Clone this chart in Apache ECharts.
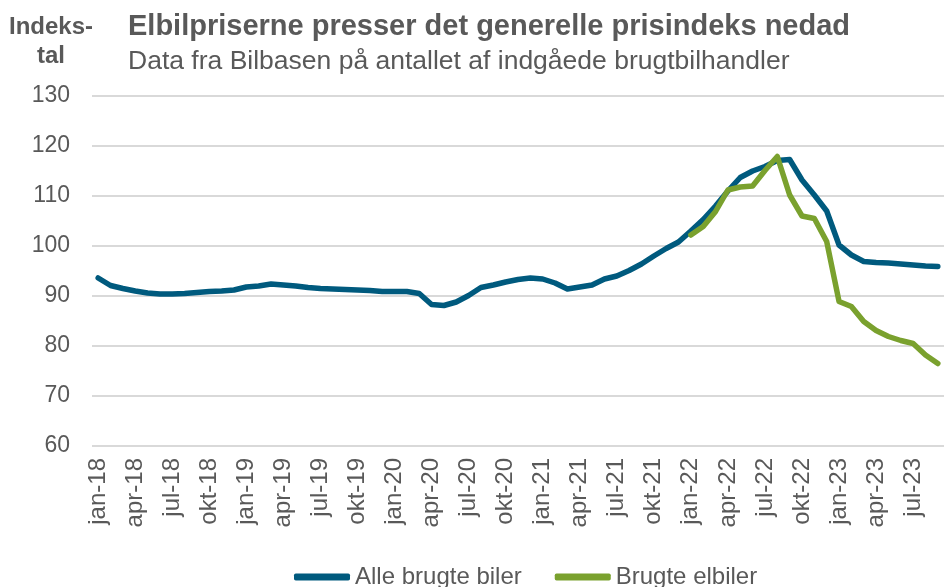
<!DOCTYPE html>
<html>
<head>
<meta charset="utf-8">
<script src="https://cdn.jsdelivr.net/npm/echarts@6/dist/echarts.min.js"></script>
<style>
  html, body { margin: 0; padding: 0; background: #fff; }
  #chart { width: 944px; height: 587px; }
</style>
</head>
<body>
<div id="chart"></div>
<script>
// maaneder jan-18 .. sep-23
var months = [
  'jan-18','feb-18','mar-18','apr-18','maj-18','jun-18','jul-18','aug-18','sep-18','okt-18','nov-18','dec-18',
  'jan-19','feb-19','mar-19','apr-19','maj-19','jun-19','jul-19','aug-19','sep-19','okt-19','nov-19','dec-19',
  'jan-20','feb-20','mar-20','apr-20','maj-20','jun-20','jul-20','aug-20','sep-20','okt-20','nov-20','dec-20',
  'jan-21','feb-21','mar-21','apr-21','maj-21','jun-21','jul-21','aug-21','sep-21','okt-21','nov-21','dec-21',
  'jan-22','feb-22','mar-22','apr-22','maj-22','jun-22','jul-22','aug-22','sep-22','okt-22','nov-22','dec-22',
  'jan-23','feb-23','mar-23','apr-23','maj-23','jun-23','jul-23','aug-23','sep-23'
];

// Alle brugte biler
var alleBiler = [
  93.6, 92.1, 91.5, 91.0, 90.6, 90.4, 90.4, 90.5, 90.7, 90.9, 91.0, 91.2,
  91.8, 92.0, 92.4, 92.2, 92.0, 91.7, 91.5, 91.4, 91.3, 91.2, 91.1, 90.9,
  90.9, 90.9, 90.5, 88.3, 88.1, 88.8, 90.1, 91.7, 92.2, 92.8, 93.3, 93.6,
  93.4, 92.6, 91.4, 91.8, 92.2, 93.4, 94.0, 95.1, 96.4, 98.0, 99.5, 100.8,
  103.0, 105.3, 108.0, 111.0, 113.7, 115.0, 115.9, 117.1, 117.3, 113.2, 110.2, 107.0,
  100.2, 98.2, 96.9, 96.7, 96.6, 96.4, 96.2, 96.0, 95.9
];

// Brugte elbiler (fra jan-22)
var elbiler = [
  null, null, null, null, null, null, null, null, null, null, null, null,
  null, null, null, null, null, null, null, null, null, null, null, null,
  null, null, null, null, null, null, null, null, null, null, null, null,
  null, null, null, null, null, null, null, null, null, null, null, null,
  102.2, 103.9, 106.9, 111.2, 111.8, 112.0, 115.1, 117.9, 110.2, 106.0, 105.5, 100.9,
  88.9, 87.9, 84.9, 83.1, 81.9, 81.1, 80.5, 78.2, 76.5
];

var yTicks = { min: 60, max: 130, step: 10 };

var grey = '#595959';
var font = 'Liberation Sans, Arial, sans-serif';

var myChart = echarts.init(document.getElementById('chart'));
myChart.setOption({
  animation: false,
  title: [
    {
      text: 'Elbilpriserne presser det generelle prisindeks nedad',
      subtext: 'Data fra Bilbasen på antallet af indgåede brugtbilhandler',
      left: 123,
      top: 7,
      itemGap: 7,
      textStyle: { color: grey, fontFamily: font, fontWeight: 'bold', fontSize: 29 },
      subtextStyle: { color: grey, fontFamily: font, fontSize: 26.5 }
    },
    {
      text: 'Indeks-\ntal',
      left: 46,
      top: 8,
      textAlign: 'center',
      textStyle: { color: grey, fontFamily: font, fontWeight: 'bold', fontSize: 24, lineHeight: 29, align: 'center' }
    }
  ],
  legend: {
    left: 289,
    top: 560,
    itemGap: 33,
    itemWidth: 56,
    itemHeight: 7,
    icon: 'roundRect',
    textStyle: { color: grey, fontFamily: font, fontSize: 24 },
    data: ['Alle brugte biler', 'Brugte elbiler']
  },
  grid: { left: 92, top: 96, width: 859, height: 350 },
  xAxis: {
    type: 'category',
    data: months,
    boundaryGap: true,
    axisLine: { show: false },
    axisTick: { show: false },
    axisLabel: {
      interval: 2,
      rotate: 90,
      margin: 12,
      color: grey,
      fontFamily: font,
      fontSize: 24
    }
  },
  yAxis: {
    type: 'value',
    min: yTicks.min,
    max: yTicks.max,
    interval: yTicks.step,
    axisLine: { show: false },
    axisTick: { show: false },
    axisLabel: { margin: 22, color: grey, fontFamily: font, fontSize: 23 },
    splitLine: { lineStyle: { color: '#d9d9d9', width: 2 } }
  },
  series: [
    {
      name: 'Alle brugte biler',
      type: 'line',
      data: alleBiler,
      showSymbol: false,
      symbol: 'none',
      color: '#005a7e',
      lineStyle: { width: 5.5, color: '#005a7e', cap: 'round', join: 'round' },
      z: 2
    },
    {
      name: 'Brugte elbiler',
      type: 'line',
      data: elbiler,
      showSymbol: false,
      symbol: 'none',
      color: '#7aa12e',
      lineStyle: { width: 5.5, color: '#7aa12e', cap: 'round', join: 'round' },
      z: 3
    }
  ]
});
</script>
</body>
</html>
